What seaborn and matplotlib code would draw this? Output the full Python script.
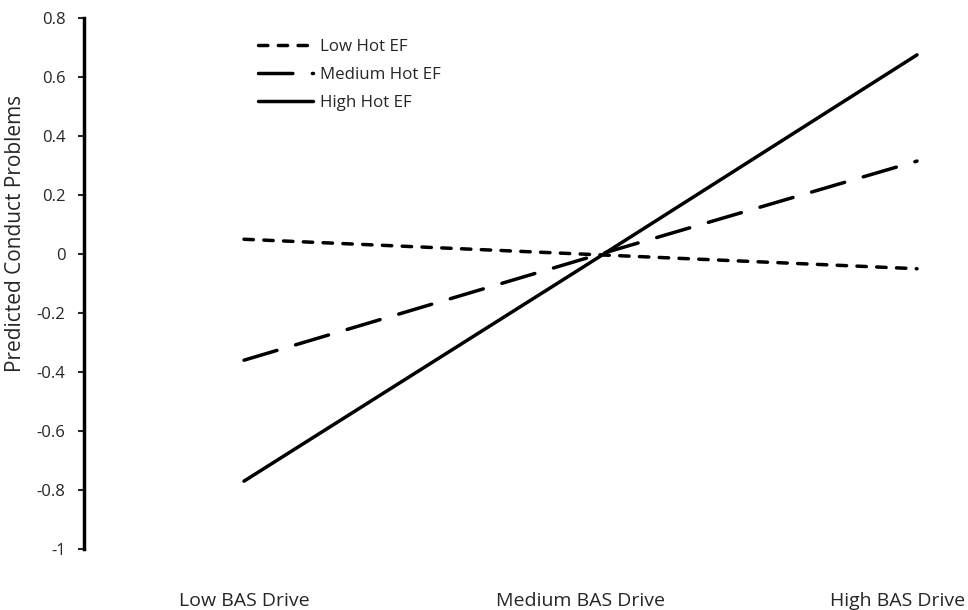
import numpy as np
import pandas as pd
import matplotlib
matplotlib.use("Agg")
import matplotlib.pyplot as plt
import matplotlib.transforms as mtransforms
import seaborn as sns

# 数据
categories = ["Low BAS Drive", "Medium BAS Drive", "High BAS Drive"]
series = ["Low Hot EF", "Medium Hot EF", "High Hot EF"]
low_ef = [0.05, 0.0, -0.05]
medium_ef = [-0.36, -0.02, 0.315]
high_ef = [-0.77, -0.05, 0.675]

df = pd.DataFrame({
    "x": list(range(3)) * 3,
    "y": low_ef + medium_ef + high_ef,
    "group": [s for s in series for _ in range(3)],
})

sns.set_style("white")
plt.rcParams["font.family"] = ["Open Sans", "DejaVu Sans"]

fig = plt.figure(figsize=(9.68, 6.10), dpi=100)
ax = fig.add_axes([84 / 968, 61 / 610, 882 / 968, 531 / 610])

dash_map = {"Low Hot EF": (2.7, 3.0), "Medium Hot EF": (9.9, 5.6), "High Hot EF": ""}
sns.lineplot(data=df, x="x", y="y", hue="group", style="group",
             palette=["black"] * 3, dashes=dash_map, linewidth=2.5,
             legend=False, ax=ax)
for ln in ax.lines:
    ln.set_dash_capstyle("round")
    ln.set_solid_capstyle("round")

ax.set_xlim(-0.4755, 2.1456)
ax.set_ylim(-1, 0.8)
ax.set_yticks(np.arange(-1, 0.81, 0.2))
ax.set_yticklabels(["-1", "-0.8", "-0.6", "-0.4", "-0.2", "0", "0.2", "0.4", "0.6", "0.8"])
ax.set_xticks(range(3))
ax.set_xticklabels(categories, fontsize=14)
ax.tick_params(axis="x", length=0, pad=31)
ax.tick_params(axis="y", direction="out", length=4.3, width=1.5, pad=9, labelsize=12, left=True)

# 最右边的标签贴着图片边缘
last = ax.get_xticklabels()[2]
last.set_horizontalalignment("right")
last.set_transform(last.get_transform() + mtransforms.ScaledTranslation(48 / 100, 0, fig.dpi_scale_trans))

for side in ["top", "right", "bottom"]:
    ax.spines[side].set_visible(False)
ax.spines["left"].set_linewidth(2.5)
ax.spines["left"].set_color("black")

ax.set_xlabel("")
ax.set_ylabel("Predicted Conduct Problems", fontsize=15)
ax.yaxis.set_label_coords(-0.066, 0.595)

fs = 12.2
ax.legend(ax.lines, series, loc="upper left",
          bbox_to_anchor=(258 / 968, 1 - 39 / 610), bbox_transform=fig.transFigure,
          frameon=False, fontsize=fs, borderpad=0, borderaxespad=0,
          handlelength=55 / (fs * 100 / 72), handletextpad=0.4, labelspacing=0.7)

plt.savefig("out.png", dpi=100)
